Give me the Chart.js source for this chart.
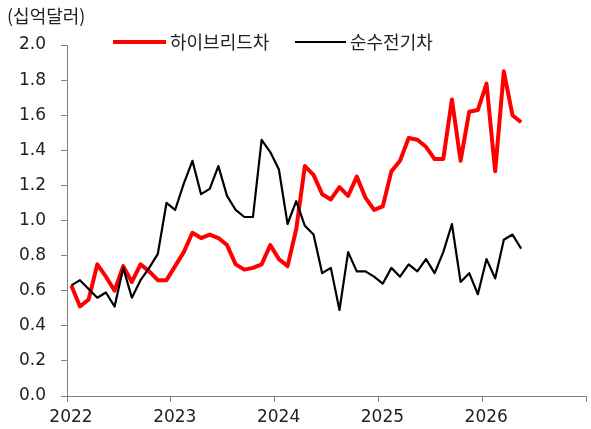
<!DOCTYPE html>
<html>
<head>
<meta charset="utf-8">
<script src="https://cdn.jsdelivr.net/npm/chart.js@4.4.1/dist/chart.umd.min.js"></script>
<style>
  html, body { margin: 0; padding: 0; background: #fff; }
  #wrap { width: 591px; height: 429px; position: relative; }
</style>
</head>
<body>
<div id="wrap"><canvas id="lineChart" width="591" height="429"></canvas></div>
<script>
// 2022.01 ~ 2026.05 월별
var yearLabels = ['2022', '2023', '2024', '2025', '2026'];
var unitText = '(십억달러)';
var seriesNames = ['하이브리드차', '순수전기차'];

var hybrid = [
    0.63, 0.51, 0.55, 0.75, 0.68, 0.60, 0.74, 0.65, 0.75, 0.71, 0.66, 0.66,
    0.74, 0.82, 0.93, 0.90, 0.92, 0.90, 0.86, 0.75, 0.72, 0.73, 0.75, 0.86,
    0.78, 0.74, 0.95, 1.31, 1.26, 1.15, 1.12, 1.19, 1.14, 1.25, 1.13, 1.06,
    1.08, 1.28, 1.34, 1.47, 1.46, 1.42, 1.35, 1.35, 1.69, 1.34, 1.62, 1.63,
    1.78, 1.28, 1.85, 1.60, 1.56
];
var bev = [
    0.63, 0.66, 0.61, 0.56, 0.59, 0.51, 0.73, 0.56, 0.66, 0.73, 0.81, 1.10,
    1.06, 1.21, 1.34, 1.15, 1.18, 1.31, 1.14, 1.06, 1.02, 1.02, 1.46, 1.39,
    1.29, 0.98, 1.11, 0.97, 0.92, 0.70, 0.73, 0.49, 0.82, 0.71, 0.71, 0.68,
    0.64, 0.73, 0.68, 0.75, 0.71, 0.78, 0.70, 0.82, 0.98, 0.65, 0.70, 0.58,
    0.78, 0.67, 0.89, 0.92, 0.84
];

var FONT = '"DejaVu Sans", "Noto Sans CJK KR", sans-serif';
var KFONT = '"Noto Sans CJK KR", sans-serif';

function toPoints(arr) {
    // 월 중간에 점을 찍음
    return arr.map(function (v, i) { return { x: i + 0.5, y: v }; });
}

// 단위 + 범례 직접 그리기
var extraText = {
    id: 'extraText',
    afterDraw: function (chart) {
        var ctx = chart.ctx;
        ctx.save();
        ctx.font = '18px ' + KFONT;
        ctx.fillStyle = '#222';
        ctx.textBaseline = 'middle';
        ctx.textAlign = 'left';
        ctx.fillText(unitText, 7, 16);

        var items = [
            { x: 113, len: 53, color: '#ff0000', width: 4, text: seriesNames[0] },
            { x: 295, len: 51, color: '#000000', width: 2, text: seriesNames[1] }
        ];
        items.forEach(function (it) {
            ctx.strokeStyle = it.color;
            ctx.lineWidth = it.width;
            ctx.beginPath();
            ctx.moveTo(it.x, 42);
            ctx.lineTo(it.x + it.len, 42);
            ctx.stroke();
            ctx.fillText(it.text, it.x + it.len + 4, 42);
        });
        ctx.restore();
    }
};

var config = {
    type: 'line',
    data: {
        datasets: [
            {
                label: seriesNames[0],
                data: toPoints(hybrid),
                borderColor: '#ff0000',
                borderWidth: 4,
                borderJoinStyle: 'round',
                pointRadius: 0,
                tension: 0,
                order: 2
            },
            {
                label: seriesNames[1],
                data: toPoints(bev),
                borderColor: '#000000',
                borderWidth: 2.2,
                borderJoinStyle: 'round',
                pointRadius: 0,
                tension: 0,
                order: 1
            }
        ]
    },
    options: {
        responsive: false,
        animation: false,
        layout: { padding: { top: 45, right: 1, left: 0, bottom: 0 } },
        plugins: {
            legend: { display: false },
            tooltip: { enabled: false }
        },
        scales: {
            x: {
                type: 'linear',
                min: 0,
                max: 60,
                afterBuildTicks: function (scale) {
                    scale.ticks = [0, 12, 24, 36, 48, 60].map(function (v) { return { value: v }; });
                },
                afterFit: function (scale) { scale.height = 33; },
                ticks: {
                    autoSkip: false,
                    maxRotation: 0,
                    padding: 5,
                    labelOffset: 4,
                    color: '#222',
                    font: { family: FONT, size: 17 },
                    callback: function (v) {
                        var k = Math.round(v / 12);
                        return yearLabels[k] || '';
                    }
                },
                grid: {
                    display: true,
                    drawOnChartArea: false,
                    drawTicks: true,
                    tickLength: 6,
                    color: '#808080'
                },
                border: { display: true, color: '#808080', width: 1 }
            },
            y: {
                min: 0,
                max: 2,
                afterFit: function (scale) { scale.width = 67; },
                ticks: {
                    stepSize: 0.2,
                    padding: 15,
                    color: '#222',
                    font: { family: FONT, size: 17 },
                    callback: function (v) { return v.toFixed(1); }
                },
                grid: {
                    display: true,
                    drawOnChartArea: false,
                    drawTicks: true,
                    tickLength: 6,
                    color: '#808080'
                },
                border: { display: true, color: '#808080', width: 1 }
            }
        }
    },
    plugins: [extraText]
};

var ctx = document.getElementById('lineChart').getContext('2d');
var chart_ev = new Chart(ctx, config);
</script>
</body>
</html>
